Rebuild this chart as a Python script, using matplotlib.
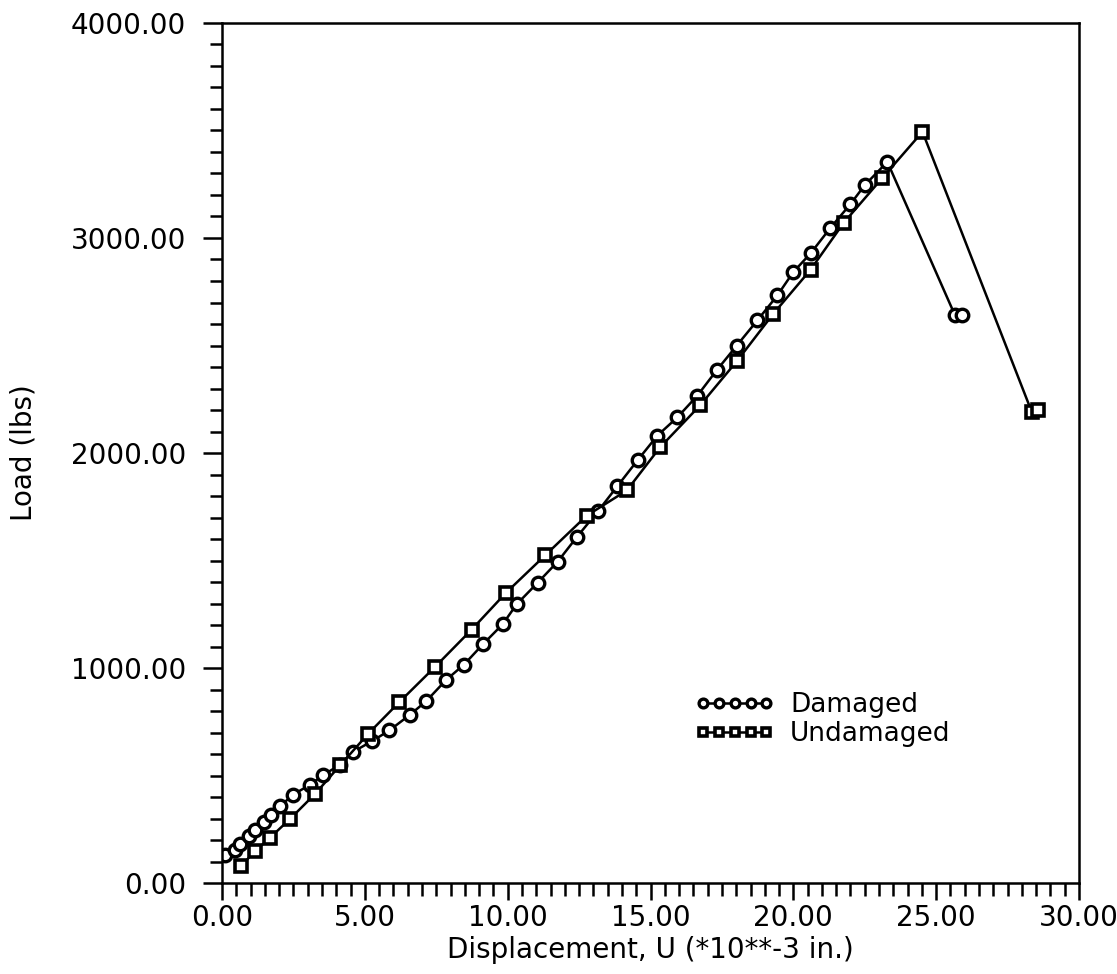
import numpy as np
import matplotlib
matplotlib.use('Agg')
import matplotlib.pyplot as plt
from matplotlib.ticker import MultipleLocator, FormatStrFormatter

# Damaged specimen: displacement (*10**-3 in.) and load (lbs)
dmg_u = [0.10, 0.45, 0.63, 0.96, 1.16, 1.47, 1.70, 2.03, 2.47, 3.08, 3.55, 4.13,
         4.57, 5.24, 5.86, 6.58, 7.14, 7.84, 8.47, 9.15, 9.82, 10.31, 11.05, 11.75,
         12.42, 13.17, 13.84, 14.55, 15.24, 15.94, 16.64, 17.31, 18.02, 18.74,
         19.44, 20.00, 20.60, 21.29, 22.00, 22.50, 23.29, 25.66, 25.91]
dmg_load = [130, 154, 182, 219, 247, 286, 317, 356, 410, 457, 503, 550,
            609, 659, 710, 783, 845, 944, 1016, 1113, 1203, 1296, 1397, 1495,
            1609, 1731, 1846, 1967, 2081, 2166, 2267, 2384, 2500, 2617,
            2733, 2842, 2928, 3046, 3158, 3246, 3354, 2640, 2640]

# Undamaged specimen
und_u = [0.67, 1.16, 1.68, 2.38, 3.26, 4.13, 5.12, 6.21, 7.46, 8.74, 9.94, 11.31,
         12.76, 14.17, 15.33, 16.73, 18.04, 19.30, 20.60, 21.77, 23.12, 24.52,
         28.34, 28.57]
und_load = [80, 149, 211, 298, 415, 547, 695, 842, 1006, 1179, 1350, 1524,
            1708, 1826, 2026, 2221, 2430, 2648, 2852, 3072, 3280, 3494,
            2193, 2198]

labels = ['Damaged', 'Undamaged']


def main():
    fs = 20
    fig = plt.figure(figsize=(11.17, 9.74), dpi=100)
    ax = fig.add_axes([0.1988, 0.0934, 0.7672, 0.883])

    ax.plot(dmg_u, dmg_load, 'o-', color='black', lw=1.8, ms=9,
            mfc='white', mec='black', mew=2.4, label=labels[0])
    ax.plot(und_u, und_load, 's-', color='black', lw=1.8, ms=8,
            mfc='white', mec='black', mew=2.6, label=labels[1])

    ax.set_xlim(0, 30)
    ax.set_ylim(0, 4000)
    ax.xaxis.set_major_locator(MultipleLocator(5))
    ax.xaxis.set_minor_locator(MultipleLocator(0.5))
    ax.yaxis.set_major_locator(MultipleLocator(1000))
    ax.yaxis.set_minor_locator(MultipleLocator(100))
    ax.xaxis.set_major_formatter(FormatStrFormatter('%.2f'))
    ax.yaxis.set_major_formatter(FormatStrFormatter('%.2f'))

    ax.tick_params(which='both', direction='out', width=1.8, top=False, right=False)
    ax.tick_params(axis='x', which='major', length=12, pad=3, labelsize=fs)
    ax.tick_params(axis='y', which='major', length=14, pad=12, labelsize=fs)
    ax.tick_params(which='minor', length=9)
    for s in ax.spines.values():
        s.set_linewidth(1.8)

    ax.set_xlabel('Displacement, U (*10**-3 in.)', fontsize=fs)
    ax.set_ylabel('Load (lbs)', fontsize=fs)
    ax.xaxis.set_label_coords(0.5, -0.062)
    ax.yaxis.set_label_coords(-0.215, 0.5)

    ax.legend(loc='center left', bbox_to_anchor=(0.552, 0.19), frameon=False,
              numpoints=5, handlelength=3.0, handletextpad=0.6,
              labelspacing=0.12, borderpad=0, borderaxespad=0,
              fontsize=19, markerscale=0.7)

    fig.savefig('out.png', dpi=100)


if __name__ == "__main__":
    main()
